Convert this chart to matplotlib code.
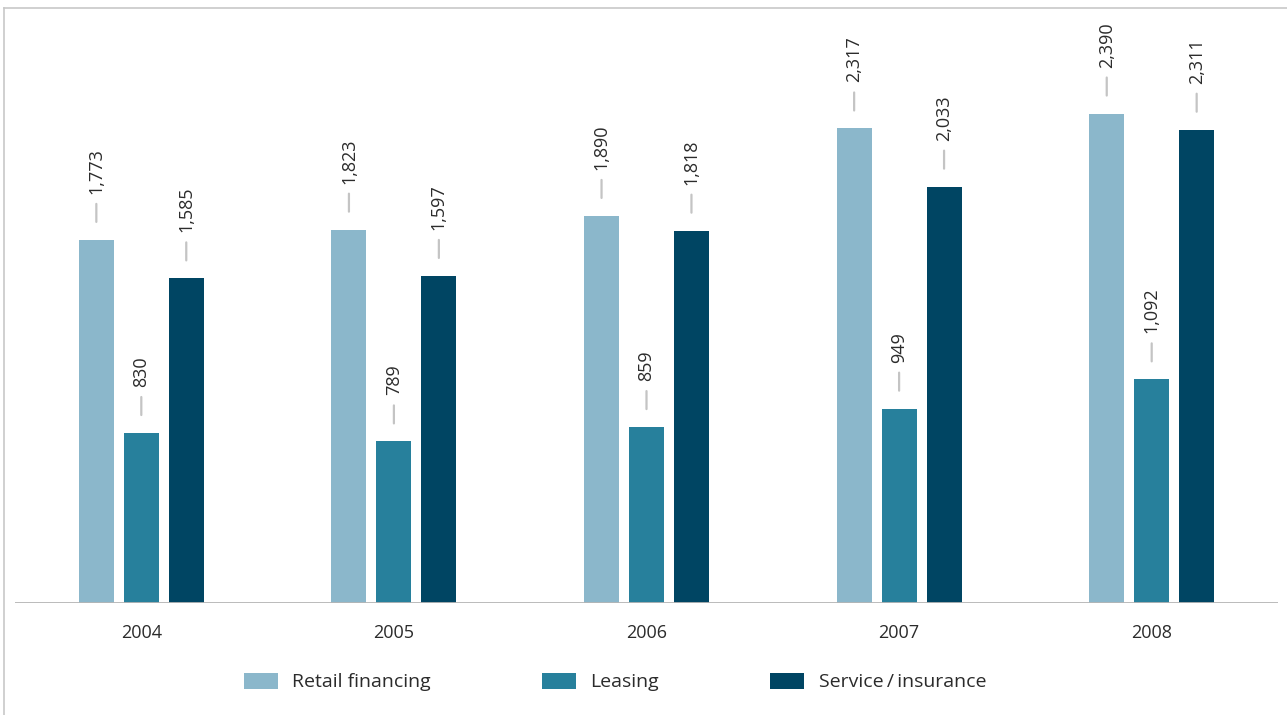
"""
Grouped bars: retail financing, leasing and service/insurance, 2004-2008.
"""

import numpy as np
import matplotlib.pyplot as plt
from matplotlib.lines import Line2D
from matplotlib.patches import Patch

years = ["2004", "2005", "2006", "2007", "2008"]
retail = [1773, 1823, 1890, 2317, 2390]
leasing = [830, 789, 859, 949, 1092]
service = [1585, 1597, 1818, 2033, 2311]
series_names = ["Retail financing", "Leasing", "Service\u2009/\u2009insurance"]

COLORS = ["#8bb7cb", "#27809c", "#004563"]
GRAY = "#b5b5b5"
TEXT = "#2b2b2b"
FONT = "Open Sans"
FONTSIZE = 13

W, H = 1287, 715
fig = plt.figure(figsize=(W / 100, H / 100), dpi=100)
plt.rcParams["font.family"] = [FONT, "DejaVu Sans"]

# axes in pixel terms: baseline at y=603, plot spans x=15..1278
left, right, base, top = 15, 1278, 603, 20
ax = fig.add_axes([left / W, (H - base) / H, (right - left) / W, (base - top) / H])
px_per_unit = 0.2048
ax.set_ylim(0, (base - top) / px_per_unit)
ax.set_xlim(-0.5, len(years) - 0.5)

x = np.arange(len(years))
width = 0.139
offsets = [-0.178, 0.0, 0.178]

for values, off, color in zip([retail, leasing, service], offsets, COLORS):
    ax.bar(x + off, values, width=width, color=color, zorder=2)
    for xi, v in zip(x + off, values):
        # short gray tick above the bar, then the rotated value
        ax.annotate(
            "",
            xy=(xi, v),
            xytext=(0, 36),
            textcoords="offset pixels",
            arrowprops=dict(arrowstyle="-", color="#c4c4c4", lw=1.6,
                            shrinkA=0, shrinkB=18 * 0.72),
        )
        ax.annotate(
            f"{v:,}",
            xy=(xi, v),
            xytext=(0, 46),
            textcoords="offset pixels",
            rotation=90,
            ha="center",
            va="bottom",
            fontsize=FONTSIZE,
            color=TEXT,
        )

ax.axhline(0, color=GRAY, lw=1.3, zorder=3)
for s in ax.spines.values():
    s.set_visible(False)
ax.set_yticks([])
ax.set_xticks(x)
ax.set_xticklabels(years, fontsize=FONTSIZE, color=TEXT)
ax.tick_params(axis="x", length=0, pad=15)

# frame lines along the top and left edge
fig.add_artist(Line2D([4 / W, 4 / W], [0, 1 - 8 / H], color="#c8c8c8", lw=1.2))
fig.add_artist(Line2D([4 / W, 1], [1 - 8 / H, 1 - 8 / H], color="#c8c8c8", lw=1.2))

handles = [Patch(facecolor=c, edgecolor="none") for c in COLORS]
fig.legend(
    handles,
    series_names,
    loc="center",
    bbox_to_anchor=(615 / W, 1 - 682 / H),
    ncol=3,
    frameon=False,
    fontsize=14,
    handlelength=1.75,
    handleheight=0.9,
    handletextpad=0.75,
    columnspacing=5.7,
    labelcolor=TEXT,
)

plt.savefig("out.png", dpi=100)
